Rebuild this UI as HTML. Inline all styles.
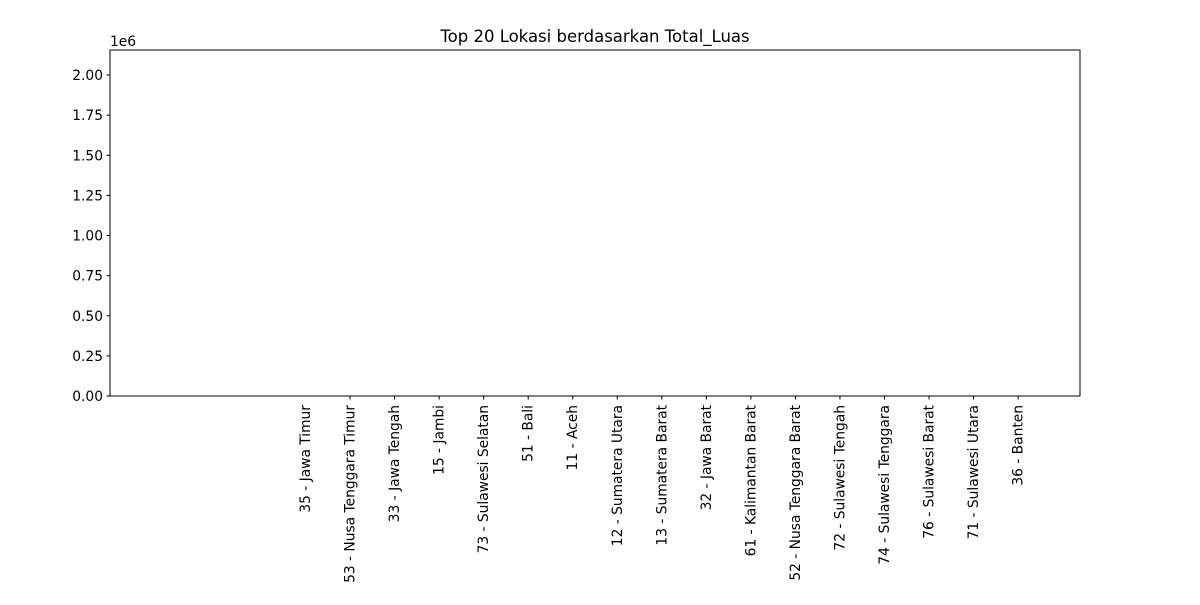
<!DOCTYPE html>
<html><head><meta charset="utf-8"><style>
body{margin:0;background:#fff;}
svg text{font-family:"DejaVu Sans","Liberation Sans",sans-serif;font-size:13.8px;fill:#000;}
</style></head><body>
<svg id="chart" width="1200" height="600">
<rect width="1200" height="600" fill="#fff"/>
<text x="595" y="42" text-anchor="middle" style="font-size:16.5px">Top 20 Lokasi berdasarkan Total_Luas</text>
<text x="110" y="46">1e6</text>
<g id="bars"></g>
<g id="yaxis"></g>
<g id="xaxis"></g>
<rect x="110" y="50" width="970" height="346" fill="none" stroke="#000" stroke-width="1"/>
</svg>
<script>
const categories = ["", "", "", "35 - Jawa Timur", "53 - Nusa Tenggara Timur", "33 - Jawa Tengah", "15 - Jambi", "73 - Sulawesi Selatan", "51 - Bali", "11 - Aceh", "12 - Sumatera Utara", "13 - Sumatera Barat", "32 - Jawa Barat", "61 - Kalimantan Barat", "52 - Nusa Tenggara Barat", "72 - Sulawesi Tengah", "74 - Sulawesi Tenggara", "76 - Sulawesi Barat", "71 - Sulawesi Utara", "36 - Banten"];
const values = [0,0,0,0,0,0,0,0,0,0,0,0,0,0,0,0,0,0,0,0];
const yTicks = [0, 0.25, 0.5, 0.75, 1.0, 1.25, 1.5, 1.75, 2.0];
const yTickLabels = ["0.00","0.25","0.50","0.75","1.00","1.25","1.50","1.75","2.00"];
const tickedCats = [4,5,6,7,8,9,10,11,12,13,14,15,16,17,18,19];

(function(){
const NS="http://www.w3.org/2000/svg";
const pL=110,pR=1080,pT=50,pB=396;
const xmin=-1.39,xmax=20.39,ymin=0,ymax=2.156e6;
const xs=i=>pL+(i-xmin)/(xmax-xmin)*(pR-pL);
const ys=v=>pB-(v-ymin)/(ymax-ymin)*(pB-pT);
function mk(t,a){const e=document.createElementNS(NS,t);for(const k in a)e.setAttribute(k,a[k]);return e;}
const bw=(xs(0.8)-xs(0));
const gb=document.getElementById('bars');
values.forEach((v,i)=>{
  const y=ys(v);
  const r=mk('rect',{x:xs(i)-bw/2,y:Math.min(y,pB),width:bw,height:Math.abs(pB-y),fill:'#1f77b4'});
  
  
  gb.appendChild(r);
});
const gy=document.getElementById('yaxis');
yTicks.forEach((t,i)=>{
  const y=ys(t*1e6);
  const l=mk('line',{x1:pL-3.5,x2:pL,y1:y,y2:y,stroke:'#000'});
  
  
  gy.appendChild(l);
  const tx=mk('text',{x:pL-7,y:y+5,'text-anchor':'end'});
  tx.textContent=yTickLabels[i];
  
  
  gy.appendChild(tx);
});
const gx=document.getElementById('xaxis');
categories.forEach((c,i)=>{
  const x=xs(i);
  if(tickedCats.includes(i)){
    const l=mk('line',{x1:x,x2:x,y1:pB,y2:pB+3.5,stroke:'#000'});
    
    
    gx.appendChild(l);
  }
  if(c){
    const tx=mk('text',{x:x+4.5,y:pB+9,'text-anchor':'end',transform:`rotate(-90 ${x+4.5} ${pB+9})`});
    tx.textContent=c;
    
    
    gx.appendChild(tx);
  }
});
})();
</script>
</body></html>
